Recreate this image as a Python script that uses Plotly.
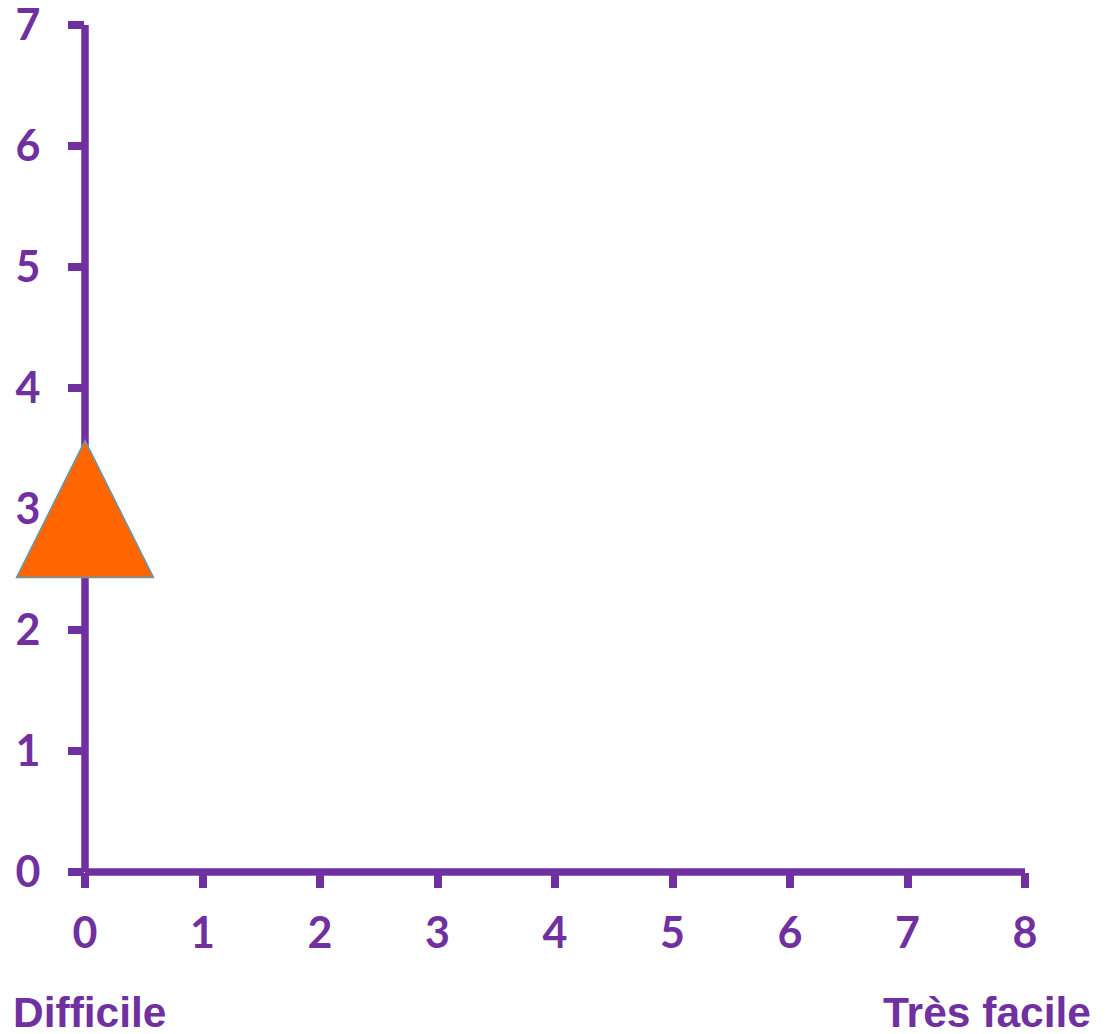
import plotly.graph_objects as go

# Data
x_values = [0]
y_values = [3]
x_ticks = [0, 1, 2, 3, 4, 5, 6, 7, 8]
y_ticks = [0, 1, 2, 3, 4, 5, 6, 7]
left_label = "Difficile"
right_label = "Très facile"

X_RANGE = [0, 8]
Y_RANGE = [0, 7]

PURPLE = "#7030A0"
ORANGE = "#FF6600"
EDGE = "#5B9BB5"

AXIS_W = 7.5
# Triangle size in pixels (half-width, half-height)
TRI_HW = 68.5
TRI_HH = 68.5

fig = go.Figure()

# invisible trace keeps the point in the data/hover layer
fig.add_trace(go.Scatter(
    x=x_values, y=y_values, mode="markers",
    marker=dict(size=10, color=ORANGE, opacity=0),
    showlegend=False, hoverinfo="x+y", cliponaxis=False,
))

# axis lines centred on the zero of each axis
fig.add_shape(type="line", xref="paper", yref="paper", x0=0, x1=0, y0=0, y1=1,
              line=dict(color=PURPLE, width=AXIS_W), layer="below")
fig.add_shape(type="line", xref="paper", yref="paper", x0=0, x1=1, y0=0, y1=0,
              line=dict(color=PURPLE, width=AXIS_W), layer="below")

# the visible triangle, anchored at each data point (mapped to paper
# coordinates so it is not clipped by the plot area), sized in pixels
for xv, yv in zip(x_values, y_values):
    px = (xv - X_RANGE[0]) / (X_RANGE[1] - X_RANGE[0])
    py = (yv - Y_RANGE[0]) / (Y_RANGE[1] - Y_RANGE[0])
    fig.add_shape(
        type="path", xref="paper", yref="paper",
        xsizemode="pixel", ysizemode="pixel",
        xanchor=px, yanchor=py,
        path=f"M{-TRI_HW},{-TRI_HH} L{TRI_HW},{-TRI_HH} L0,{TRI_HH} Z",
        fillcolor=ORANGE, line=dict(color=EDGE, width=1.5),
        layer="above",
    )

tick_font = dict(family="Lato, Open Sans, sans-serif", size=43, color=PURPLE, weight="bold")

fig.update_xaxes(
    range=X_RANGE, tickvals=x_ticks, ticktext=[str(t) for t in x_ticks],
    showline=False,
    ticks="outside", ticklen=15, tickwidth=AXIS_W, tickcolor=PURPLE,
    showgrid=False, zeroline=False, tickfont=tick_font,
    ticklabelstandoff=8, automargin=False, ticklabeloverflow="allow",
)
fig.update_yaxes(
    range=Y_RANGE, tickvals=y_ticks, ticktext=[str(t) for t in y_ticks],
    showline=False,
    ticks="outside", ticklen=16, tickwidth=AXIS_W, tickcolor=PURPLE,
    showgrid=False, zeroline=False, tickfont=tick_font,
    ticklabelstandoff=19, automargin=False, ticklabeloverflow="allow",
)

label_font = dict(family="Liberation Sans, Arial, sans-serif", size=42.5, color=PURPLE, weight="bold")
fig.add_annotation(text=left_label, xref="paper", yref="paper",
                   x=-0.0787, y=-0.1659, xanchor="left", yanchor="middle",
                   showarrow=False, font=label_font)
fig.add_annotation(text=right_label, xref="paper", yref="paper",
                   x=1.0723, y=-0.1659, xanchor="right", yanchor="middle",
                   showarrow=False, font=label_font)

fig.update_layout(
    width=1117, height=1034,
    margin=dict(l=85, r=92, t=25, b=162),
    paper_bgcolor="white", plot_bgcolor="white",
    showlegend=False,
)

fig.write_html("out.html")
